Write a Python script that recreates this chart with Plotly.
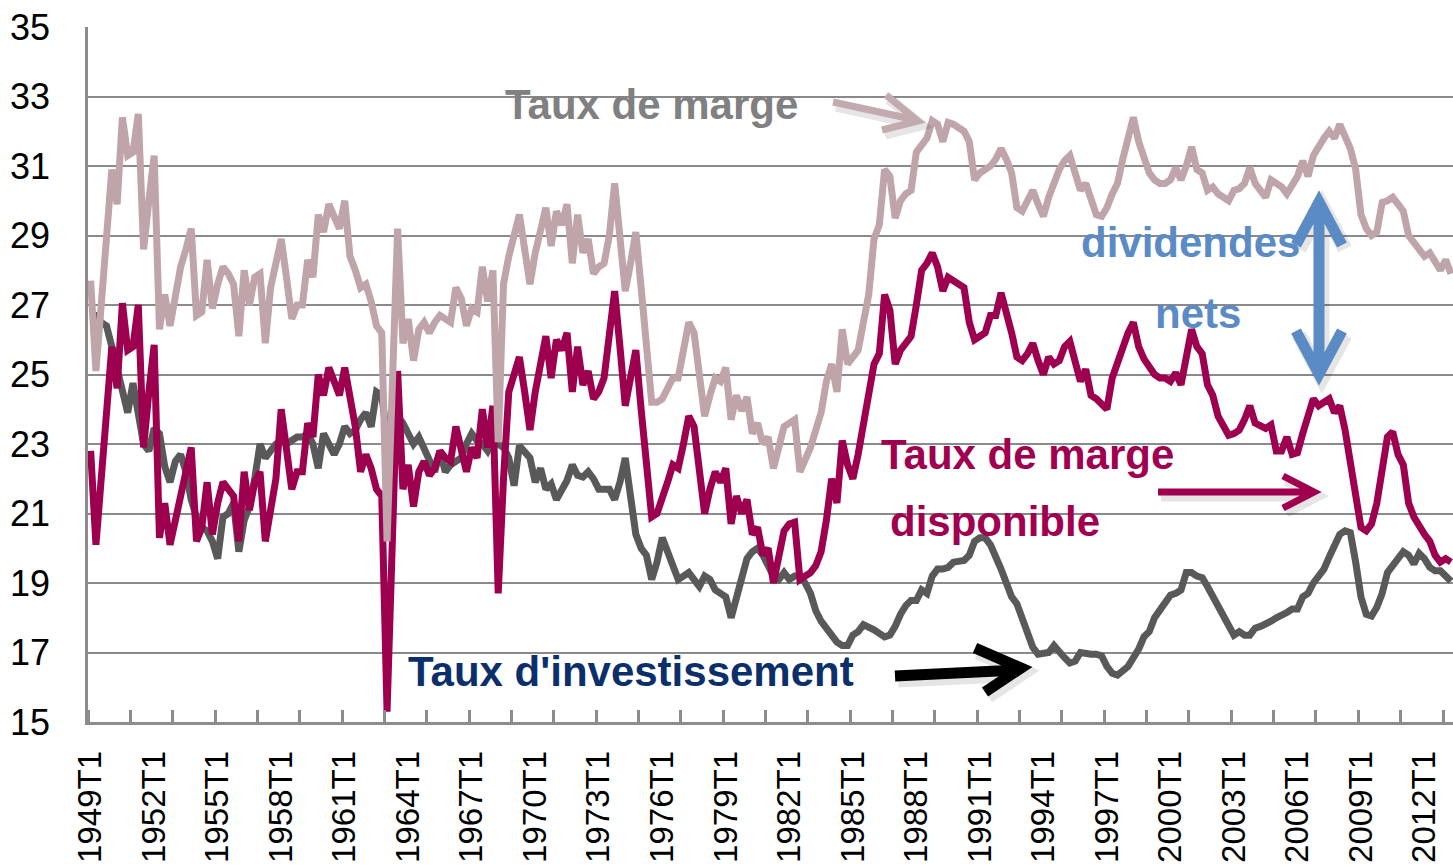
import plotly.graph_objects as go

quarters = [f"{1949 + k // 4}T{k % 4 + 1}" for k in range(258)]
tick_labels = [q for q in quarters if q.endswith("T1") and (int(q[:4]) - 1949) % 3 == 0]

taux_marge = [
    27.7, 25.1, 27.0, 29.0, 30.9, 29.9, 32.4, 31.3, 31.4, 32.5,
    28.6, 30.0, 31.3, 26.3, 27.3, 26.4, 27.2, 28.1, 28.6, 29.2,
    26.7, 26.8, 28.3, 26.9, 27.6, 28.1, 27.9, 27.6, 26.1, 28.0,
    27.0, 27.8, 27.9, 25.9, 27.5, 28.2, 28.9, 27.8, 26.6, 27.0,
    27.0, 28.3, 27.8, 29.6, 29.1, 29.9, 29.5, 29.2, 30.0, 28.4,
    28.0, 27.5, 27.6, 27.1, 26.4, 26.2, 20.2, 24.7, 29.2, 25.9,
    26.6, 25.4, 26.3, 26.5, 26.2, 26.5, 26.7, 26.6, 26.5, 27.5,
    27.2, 26.4, 26.9, 26.8, 28.1, 27.1, 28.0, 23.05, 27.6, 28.4,
    29.0, 29.6, 28.6, 27.6, 28.5, 29.2, 29.8, 28.7, 29.7, 29.3,
    29.9, 28.2, 29.6, 28.5, 28.9, 27.9, 28.1, 28.2, 29.0, 30.5,
    29.0, 27.4, 28.2, 29.1, 27.5, 25.8, 24.2, 24.2, 24.3, 24.6,
    24.9, 24.9, 25.7, 26.5, 26.2, 25.0, 23.8, 24.4, 24.9, 24.8,
    25.2, 23.7, 24.4, 23.95, 24.35, 23.3, 23.6, 23.0, 23.2, 22.3,
    22.9, 23.5, 23.6, 23.7, 22.2, 22.5, 22.9, 23.4, 23.9, 24.8,
    25.3, 24.5, 26.3, 25.3, 25.5, 25.7, 26.5, 27.3, 28.9, 29.3,
    30.9, 30.7, 29.5, 30.0, 30.2, 30.3, 31.4, 31.6, 31.8, 32.3,
    32.2, 31.7, 32.25, 32.2, 32.1, 32.0, 31.7, 30.6, 30.8, 30.9,
    31.0, 31.2, 31.5, 31.2, 30.8, 29.8, 29.7, 30.0, 30.3, 29.9,
    29.55, 30.1, 30.5, 30.9, 31.15, 31.3, 30.8, 30.3, 30.5, 30.0,
    29.6, 29.55, 29.8, 30.2, 30.5, 31.2, 31.8, 32.4, 31.7, 31.3,
    30.8, 30.6, 30.5, 30.5, 30.6, 30.95, 30.6, 31.0, 31.55, 30.9,
    30.8, 30.3, 30.4, 30.2, 30.1, 30.0, 30.3, 30.35, 30.5, 30.95,
    30.5, 30.3, 30.1, 30.6, 30.5, 30.4, 30.2, 30.5, 30.7, 31.15,
    30.7, 31.3, 31.6, 31.8, 32.0, 31.8, 32.2, 31.8, 31.5, 30.9,
    29.6, 29.2, 29.0, 29.1, 29.95, 30.0, 30.1, 29.9, 29.7, 29.0,
    28.8, 28.6, 28.4, 28.5, 28.2, 28.0, 28.3, 27.9,
]

taux_marge_disponible = [
    22.8, 20.1, 22.0, 24.0, 25.8, 24.6, 27.05, 25.7, 25.8, 27.0,
    22.9, 24.5, 25.85, 20.3, 21.3, 20.1, 20.8, 21.5, 22.2, 22.9,
    20.2, 20.6, 21.9, 20.4, 21.3, 21.9, 21.7, 21.5, 20.2, 22.2,
    21.1, 21.9, 22.2, 20.2, 21.1, 22.0, 24.0, 22.8, 21.7, 22.2,
    22.2, 23.6, 23.2, 25.0, 24.4, 25.2, 24.8, 24.4, 25.2, 24.4,
    23.5, 22.2, 22.7, 22.3, 21.7, 21.5, 15.3, 20.2, 25.1, 21.7,
    22.4, 21.2, 22.2, 22.5, 22.1, 22.3, 22.8, 22.6, 22.5, 23.5,
    22.9, 22.2, 22.9, 22.6, 24.0, 22.9, 24.1, 18.7, 22.0, 24.5,
    25.0, 25.5, 24.5, 23.4, 24.5, 25.4, 26.1, 24.9, 26.0, 25.7,
    26.2, 24.5, 25.8, 24.7, 25.1, 24.3, 24.5, 24.9, 26.0, 27.4,
    25.8, 24.1, 24.9, 25.7, 24.0, 22.3, 20.9, 21.0, 21.4, 21.9,
    22.4, 22.3, 23.0, 23.8, 23.5, 22.3, 21.0, 21.7, 22.2, 21.9,
    22.3, 20.7, 21.5, 21.0, 21.4, 20.4, 20.6, 19.8, 20.0, 19.0,
    19.8, 20.5, 20.7, 20.75, 19.1, 19.2, 19.3, 19.5, 19.9, 20.8,
    22.0, 21.3, 23.1, 22.4, 22.0, 22.7, 23.6, 24.2, 25.3, 25.6,
    27.3, 26.85, 25.3, 25.7, 25.9, 26.1, 27.0, 28.0, 28.2, 28.5,
    28.1, 27.4, 27.8, 27.7, 27.6, 27.5, 26.5, 26.0, 26.1, 26.2,
    26.7, 26.7, 27.35, 26.85, 26.2, 25.5, 25.4, 25.6, 25.9, 25.4,
    25.0, 25.5, 25.3, 25.4, 25.8, 25.95, 25.4, 24.8, 25.15, 24.4,
    24.3, 24.15, 24.0, 24.9, 25.35, 25.9, 26.2, 26.5, 25.8, 25.45,
    25.2, 25.0, 24.9, 24.9, 24.8, 25.05, 24.7, 25.5, 26.3, 25.8,
    25.6, 24.7, 24.4, 23.8, 23.5, 23.25, 23.3, 23.4, 23.7, 24.1,
    23.6, 23.5, 23.45, 23.55, 22.8, 22.8, 23.2, 22.7, 22.75, 23.3,
    23.9, 24.3, 24.1, 24.2, 24.3, 23.9, 24.1, 23.4, 22.4, 21.6,
    20.6, 20.5, 20.7, 21.3, 22.2, 23.2, 23.35, 22.7, 22.4, 21.3,
    20.9, 20.6, 20.4, 20.2, 19.8, 19.6, 19.7, 19.6,
]

taux_investissement = [
    26.7, 26.7, 26.5, 26.4, 25.8, 25.2, 24.6, 23.9, 24.75, 23.9,
    23.0, 22.8, 23.45, 23.3, 22.35, 21.9, 22.5, 22.7, 22.2, 21.4,
    20.9, 20.6, 20.5, 20.2, 19.7, 20.9, 21.0, 21.3, 19.9, 20.8,
    21.2, 22.0, 23.0, 22.6, 22.8, 23.0, 23.1, 23.0, 23.1, 23.2,
    23.2, 23.3, 23.0, 22.3, 23.3, 23.0, 22.7, 23.0, 23.5, 23.3,
    23.4, 23.7, 23.9, 23.5, 24.5, 24.4, 23.2, 23.5, 23.8, 23.6,
    23.3, 23.0, 23.2, 22.9, 22.5, 22.2, 22.8, 22.2, 22.4, 22.5,
    22.6, 23.0, 23.3, 23.1, 23.0, 22.8, 23.1, 23.0, 22.9, 22.6,
    21.8, 22.95, 22.8, 22.6, 21.9, 22.3, 21.7, 21.85, 21.4, 21.7,
    21.95, 22.4, 22.1, 22.05, 22.2, 22.0, 21.7, 21.7, 21.7, 21.4,
    21.9, 22.6, 21.4, 20.4, 20.0, 19.8, 19.1, 19.6, 20.3, 19.9,
    19.5, 19.1, 19.2, 19.3, 19.1, 18.9, 19.2, 19.1, 18.8, 18.7,
    18.6, 18.0, 18.6, 19.3, 19.7, 19.9, 20.0, 19.8, 19.5, 19.2,
    19.1, 19.3, 19.1, 19.2, 19.2, 19.0, 18.7, 18.2, 17.9, 17.7,
    17.45, 17.3, 17.2, 17.2, 17.5, 17.6, 17.8, 17.75, 17.65, 17.55,
    17.45, 17.5, 17.75, 18.1, 18.35, 18.5, 18.5, 18.8, 18.7, 19.2,
    19.4, 19.4, 19.45, 19.6, 19.6, 19.65, 19.8, 20.2, 20.3, 20.3,
    20.1, 19.8, 19.4, 19.0, 18.6, 18.4, 18.0, 17.5, 17.15, 16.95,
    16.95, 17.0, 17.2, 17.0, 16.85, 16.7, 16.75, 17.0, 16.95, 16.95,
    16.95, 16.9, 16.6, 16.4, 16.35, 16.45, 16.6, 16.85, 17.1, 17.45,
    17.6, 18.0, 18.2, 18.4, 18.65, 18.7, 18.8, 19.3, 19.3, 19.2,
    19.15, 18.9, 18.6, 18.3, 18.05, 17.8, 17.5, 17.6, 17.5, 17.5,
    17.7, 17.75, 17.8, 17.9, 18.0, 18.05, 18.15, 18.25, 18.25, 18.6,
    18.7, 19.0, 19.2, 19.4, 19.75, 20.1, 20.4, 20.5, 20.45, 19.6,
    18.6, 18.1, 18.05, 18.3, 18.7, 19.3, 19.5, 19.7, 19.9, 19.8,
    19.55, 19.85, 19.7, 19.45, 19.35, 19.35, 19.2, 19.05,
]

# ---------------------------------------------------------------- figure
W, H = 1453, 866
ML, MT, MB = 88, 27, 144
PW, PH = W - ML, H - MT - MB
STEP = 5.293  # px per quarter in the reference

FONT = "Liberation Sans, Arial, sans-serif"

idx = list(range(len(quarters)))
tick_idx = [quarters.index(t) for t in tick_labels]

fig = go.Figure()
series = [
    ("Taux d'investissement", taux_investissement, "#595959"),
    ("Taux de marge disponible", taux_marge_disponible, "#9E0050"),
    ("Taux de marge", taux_marge, "#BFA5AA"),
]
for name, vals, col in series:
    fig.add_trace(go.Scatter(
        x=idx, y=vals, mode="lines", name=name,
        line=dict(color=col, width=7),
        customdata=quarters, hovertemplate="%{customdata}: %{y}<extra>" + name + "</extra>",
    ))


def px(x):
    return (x - ML) / PW


def py(y):
    return (MT + PH - y) / PH


texts = [
    ("Taux de marge", 651, 104, "#808080"),
    ("dividendes", 1190, 243, "#5B8BC5"),
    ("nets", 1198, 313, "#5B8BC5"),
    ("Taux de marge", 1027, 454, "#A0004F"),
    ("disponible", 995, 521, "#A0004F"),
    ("Taux d'investissement", 631, 671, "#0B2F6B"),
]
annotations = []
for t, x, y, c in texts:
    annotations.append(dict(
        text="<b>" + t + "</b>", x=px(x), y=py(y), xref="paper", yref="paper",
        xanchor="center", yanchor="middle", showarrow=False,
        font=dict(family=FONT, size=42, color=c),
    ))


def path(points_list, dx=0.0, dy=0.0):
    parts = []
    for pts in points_list:
        s = "M " + " L ".join(f"{px(a + dx):.5f},{py(b + dy):.5f}" for a, b in pts)
        parts.append(s)
    return " ".join(parts)


arrows = [
    # (list of polylines in pixel coords, color, width)
    ([[(833, 102), (916, 120)], [(886, 95), (918, 121), (882, 130)]], "#C2AAAF", 7),
    ([[(1319, 204), (1319, 372)], [(1296, 245), (1319, 202), (1342, 245)],
      [(1296, 331), (1319, 374), (1342, 331)]], "#5B8BC5", 11),
    ([[(1158, 492), (1311, 492)], [(1283, 476), (1314, 492), (1283, 508)]], "#A0004F", 7),
    ([[(895, 676), (1018, 670)], [(975, 648), (1021, 668), (985, 692)]], "#000000", 11),
]
shapes = []
# soft drop shadows
for polys, col, w in arrows:
    shapes.append(dict(type="path", xref="paper", yref="paper", path=path(polys, 3, 4),
                       line=dict(color="rgba(0,0,0,0.10)", width=w + 4), layer="above"))
for polys, col, w in arrows:
    shapes.append(dict(type="path", xref="paper", yref="paper", path=path(polys),
                       line=dict(color=col, width=w), layer="above"))

fig.update_layout(
    width=W, height=H,
    margin=dict(l=ML, r=0, t=MT, b=MB, pad=0, autoexpand=False),
    paper_bgcolor="white", plot_bgcolor="white",
    showlegend=False,
    font=dict(family=FONT, size=35, color="black"),
    annotations=annotations,
    shapes=shapes,
    xaxis=dict(
        automargin=False,
        range=[-0.5, -0.5 + PW / STEP],
        tickmode="array", tickvals=tick_idx, ticktext=tick_labels,
        tickangle=-90, tickfont=dict(family=FONT, size=33, color="black"),
        ticks="outside", ticklen=13, tickcolor="rgba(0,0,0,0)",
        showgrid=False, zeroline=False,
        showline=True, linecolor="#8C8C8C", linewidth=2.5,
        minor=dict(tickmode="linear", tick0=-0.5, dtick=8, ticks="inside",
                   ticklen=12, tickwidth=2.5, tickcolor="#8C8C8C", showgrid=False),
    ),
    yaxis=dict(
        automargin=False,
        range=[15, 35], tickmode="linear", tick0=15, dtick=2,
        tickfont=dict(family=FONT, size=36, color="black"),
        ticks="outside", ticklen=28, tickcolor="rgba(0,0,0,0)",
        showgrid=True, gridcolor="#8A8A8A", gridwidth=2,
        zeroline=False,
        showline=True, linecolor="#8C8C8C", linewidth=2.5,
    ),
)

fig.write_html(
    "out.html",
    config={"displayModeBar": False},
    post_script="document.body.style.margin='0';document.body.style.overflow='hidden';",
)
